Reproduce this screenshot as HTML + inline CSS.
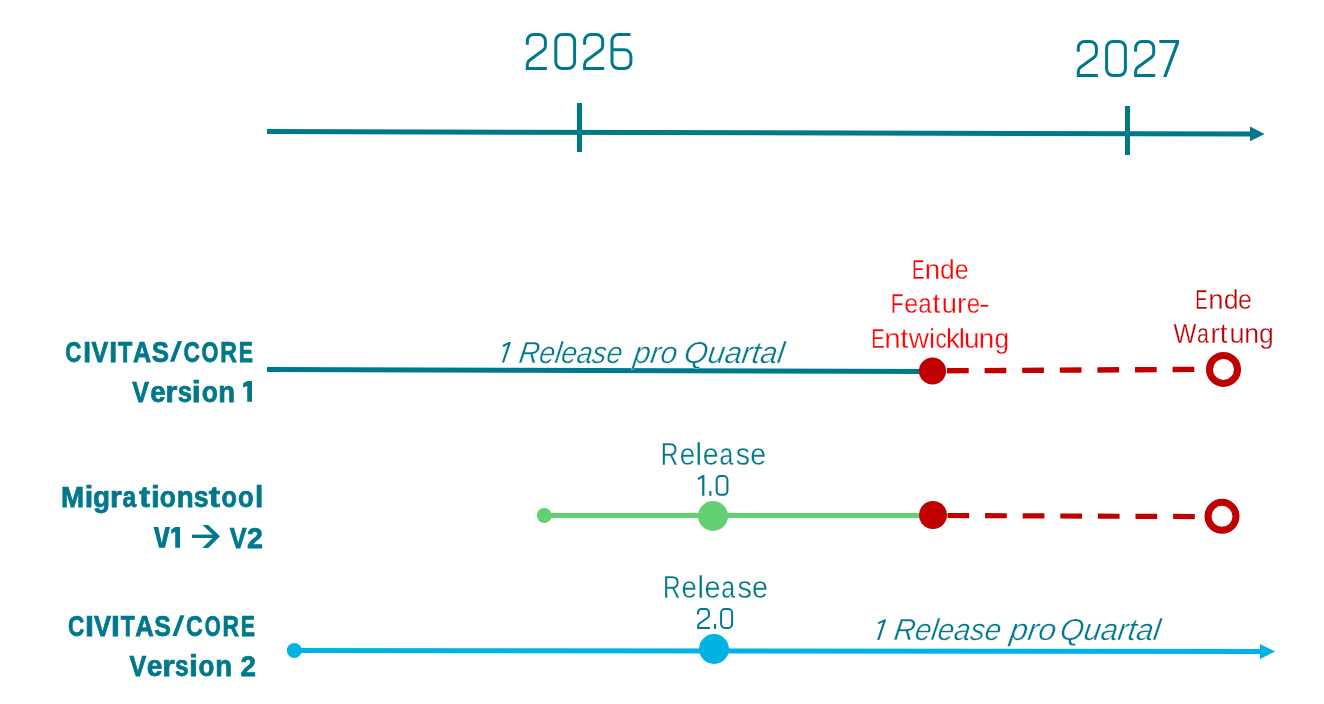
<!DOCTYPE html>
<html><head><meta charset="utf-8">
<style>
html,body{margin:0;padding:0;background:#fff;width:1324px;height:704px;overflow:hidden}
svg{display:block;will-change:transform}
text{font-family:"Liberation Sans",sans-serif}
</style></head>
<body>
<svg width="1324" height="704" viewBox="0 0 1324 704">
<defs>
<path id="d2" d="M1.5 11.7 L1.5 7.9 A6.4 6.4 0 0 1 7.9 1.5 L13.2 1.5 A6.4 6.4 0 0 1 19.6 7.9 L19.6 13 Q19.6 15.7 17.4 17.3 L3.7 27.2 Q1.5 28.8 1.5 31.4 L1.5 35.5 L21.1 35.5"/>
<rect id="d0" x="1.5" y="1.5" width="18.8" height="34" rx="6.4" ry="6.4"/>
<path id="d6" d="M20 1.5 L8 1.5 A6.5 6.5 0 0 0 1.5 8 L1.5 29 A6.5 6.5 0 0 0 8 35.5 L13.9 35.5 A6.5 6.5 0 0 0 20.4 29 L20.4 23.3 A6.5 6.5 0 0 0 13.9 16.8 L1.5 16.8"/>
</defs>
<g fill="none" stroke="#00788c" stroke-width="3" stroke-linecap="butt" stroke-linejoin="miter">
<g transform="translate(525.8,33)">
<use href="#d2" x="0"/><use href="#d0" x="28.5"/><use href="#d2" x="57.3"/><use href="#d6" x="84.7"/>
</g>
<g transform="translate(1076.8,40)">
<use href="#d2" x="0"/><use href="#d0" x="28.3"/><use href="#d2" x="57.3"/>
</g>
</g>
<polygon fill="#00788c" points="1159.3,40 1179.1,40 1179.1,43 1166.5,77 1163.1,77 1175.7,43 1159.3,43"/>
<g fill="#00788c">
<polygon points="267,129.1 1251,131.5 1251,136.5 267,134.1"/>
<rect x="577" y="103" width="5" height="49"/>
<rect x="1125" y="106" width="5" height="49"/>
<polygon points="1250,126.4 1264.6,133.9 1250,141.3"/>
</g>
<polygon points="267,367 932,369 932,374 267,372" fill="#00788c"/>
<line x1="947" y1="370.8" x2="1205" y2="369.3" stroke="#c00000" stroke-width="5.4" stroke-dasharray="21.7 15.9"/>
<circle cx="932.5" cy="371" r="13.6" fill="#c00000"/>
<circle cx="1223.5" cy="369.4" r="14" fill="none" stroke="#c00000" stroke-width="7"/>
<line x1="544" y1="515.5" x2="932" y2="515.5" stroke="#63d071" stroke-width="5"/>
<circle cx="544.3" cy="515.5" r="7.5" fill="#63d071"/>
<circle cx="713" cy="516" r="15" fill="#63d071"/>
<line x1="947.5" y1="515.5" x2="1205" y2="516.6" stroke="#c00000" stroke-width="5.2" stroke-dasharray="21.7 15.9"/>
<circle cx="933" cy="515" r="14" fill="#c00000"/>
<circle cx="1222" cy="516.3" r="14" fill="none" stroke="#c00000" stroke-width="7"/>
<polygon points="294,648 1260,649 1260,654 294,653" fill="#00b3e3"/>
<circle cx="294.3" cy="650.5" r="7.5" fill="#00b3e3"/>
<circle cx="714" cy="649" r="15" fill="#00b3e3"/>
<polygon points="1260,643.9 1275.2,651.5 1260,659.1" fill="#00b3e3"/>
<g fill="none" stroke="#00788c" stroke-width="2" stroke-linecap="butt" stroke-linejoin="miter">
<path d="M698.1 6.6 L698.1 4.5 A3.5 3.5 0 0 1 701.6 1 L705.4 1 A3.5 3.5 0 0 1 708.9 4.5 L708.9 7.3 Q708.9 8.9 707.6 9.8 L699.4 15.5 Q698.1 16.4 698.1 18 L698.1 19.9 L709.9 19.9" transform="translate(0,608)"/>
<rect x="721.1" y="609" width="11" height="18.9" rx="3.8" ry="3.8"/>
<rect x="716.7" y="476.1" width="10.7" height="18.7" rx="3.8" ry="3.8"/>
<path d="M697.9 479.2 L703.4 476.0" stroke-width="2.1"/>
</g>
<g fill="#00788c">
<polygon points="502.6,345.0 509.0,342.0 511.0,342.0 504.1,362.6 501.9,362.6 507.9,344.6 503.4,346.9"/>
<polygon points="877.8,622.4 884.2,619.4 886.2,619.4 879.3,640.0 877.1,640.0 883.1,622.0 878.6,624.3"/>
<rect x="702.2" y="475.1" width="2.2" height="20.7"/>
<rect x="709.3" y="491.1" width="2.1" height="4.7"/>
<rect x="714" y="624" width="2.1" height="4.9"/>
</g>
<g fill="#00788c">
<rect x="192" y="534.6" width="24" height="3.4"/>
<polygon points="177.8,341.1 182,341.1 174.2,361.8 169.9,361.8"/>
<polygon points="180.3,615.3 184.5,615.3 176.7,636 172.4,636"/>
<polygon points="243.2,383.3 247.2,381.1 252,381.1 252,401.8 247.2,401.8 247.2,385.9 243.2,387.6"/>
<polygon points="153.6,527.1 158.3,527.1 161.7,543.1 165.3,527.1 170,527.1 164.9,547.8 159,547.8"/>
<polygon points="171.3,529.6 175.2,527.1 180.05,527.1 180.05,547.8 175.2,547.8 175.2,531.8 171.3,533.8"/>
<polygon points="202.6,524.9 208.2,524.9 220,536.3 208.2,548.1 202.4,548.1 214.3,536.3"/>
</g>
<text x="517.99" y="362.6" font-size="30.4" fill="#00788c" font-style="italic" transform="translate(0,362.6) skewX(-8) translate(0,-362.6)" textLength="103.06" lengthAdjust="spacingAndGlyphs" stroke="#fff" stroke-width="0.35">Release</text>
<text x="632.86" y="362.6" font-size="30.4" fill="#00788c" font-style="italic" transform="translate(0,362.6) skewX(-8) translate(0,-362.6)" textLength="43.23" lengthAdjust="spacingAndGlyphs" stroke="#fff" stroke-width="0.35">pro</text>
<text x="682.98" y="362.6" font-size="30.4" fill="#00788c" font-style="italic" transform="translate(0,362.6) skewX(-8) translate(0,-362.6)" textLength="100.04" lengthAdjust="spacingAndGlyphs" stroke="#fff" stroke-width="0.35">Quartal</text>
<text x="892.98" y="640" font-size="30.4" fill="#00788c" font-style="italic" transform="translate(0,640) skewX(-8) translate(0,-640)" textLength="107.08" lengthAdjust="spacingAndGlyphs" stroke="#fff" stroke-width="0.35">Release</text>
<text x="1008.92" y="640" font-size="30.4" fill="#00788c" font-style="italic" transform="translate(0,640) skewX(-8) translate(0,-640)" textLength="46.15" lengthAdjust="spacingAndGlyphs" stroke="#fff" stroke-width="0.35">pro</text>
<text x="1059.02" y="640" font-size="30.4" fill="#00788c" font-style="italic" transform="translate(0,640) skewX(-8) translate(0,-640)" textLength="100.04" lengthAdjust="spacingAndGlyphs" stroke="#fff" stroke-width="0.35">Quartal</text>
<text x="660.84" y="464.8" font-size="31" fill="#00788c" textLength="17.57" lengthAdjust="spacingAndGlyphs" stroke="#fff" stroke-width="0.3">R</text>
<text x="679.64" y="464.8" font-size="31" fill="#00788c" textLength="15.43" lengthAdjust="spacingAndGlyphs" stroke="#fff" stroke-width="0.3">e</text>
<text x="695.25" y="464.8" font-size="31" fill="#00788c" stroke="#fff" stroke-width="0.3">l</text>
<text x="702.77" y="464.8" font-size="31" fill="#00788c" textLength="15.92" lengthAdjust="spacingAndGlyphs" stroke="#fff" stroke-width="0.3">e</text>
<text x="719.43" y="464.8" font-size="31" fill="#00788c" textLength="13.74" lengthAdjust="spacingAndGlyphs" stroke="#fff" stroke-width="0.3">a</text>
<text x="735.76" y="464.8" font-size="31" fill="#00788c" textLength="14.29" lengthAdjust="spacingAndGlyphs" stroke="#fff" stroke-width="0.3">s</text>
<text x="750.31" y="464.8" font-size="31" fill="#00788c" textLength="15.89" lengthAdjust="spacingAndGlyphs" stroke="#fff" stroke-width="0.3">e</text>
<text x="663.02" y="597.8" font-size="31" fill="#00788c" textLength="17.57" lengthAdjust="spacingAndGlyphs" stroke="#fff" stroke-width="0.3">R</text>
<text x="681.51" y="597.8" font-size="31" fill="#00788c" textLength="15.33" lengthAdjust="spacingAndGlyphs" stroke="#fff" stroke-width="0.3">e</text>
<text x="697.32" y="597.8" font-size="31" fill="#00788c" stroke="#fff" stroke-width="0.3">l</text>
<text x="704.52" y="597.8" font-size="31" fill="#00788c" textLength="15.98" lengthAdjust="spacingAndGlyphs" stroke="#fff" stroke-width="0.3">e</text>
<text x="721.15" y="597.8" font-size="31" fill="#00788c" textLength="13.87" lengthAdjust="spacingAndGlyphs" stroke="#fff" stroke-width="0.3">a</text>
<text x="737.49" y="597.8" font-size="31" fill="#00788c" textLength="14.47" lengthAdjust="spacingAndGlyphs" stroke="#fff" stroke-width="0.3">s</text>
<text x="752.01" y="597.8" font-size="31" fill="#00788c" textLength="16.00" lengthAdjust="spacingAndGlyphs" stroke="#fff" stroke-width="0.3">e</text>
<text x="911.89" y="278.7" font-size="28" fill="#ff0000" textLength="12.57" lengthAdjust="spacingAndGlyphs" stroke="#fff" stroke-width="0.3">E</text>
<text x="924.84" y="278.7" font-size="28" fill="#ff0000" textLength="15.44" lengthAdjust="spacingAndGlyphs" stroke="#fff" stroke-width="0.3">n</text>
<text x="940.00" y="278.7" font-size="28" fill="#ff0000" textLength="14.75" lengthAdjust="spacingAndGlyphs" stroke="#fff" stroke-width="0.3">d</text>
<text x="954.63" y="278.7" font-size="28" fill="#ff0000" textLength="13.92" lengthAdjust="spacingAndGlyphs" stroke="#fff" stroke-width="0.3">e</text>
<text x="890.82" y="312.9" font-size="28" fill="#ff0000" textLength="12.90" lengthAdjust="spacingAndGlyphs" stroke="#fff" stroke-width="0.3">F</text>
<text x="904.25" y="312.9" font-size="28" fill="#ff0000" textLength="13.90" lengthAdjust="spacingAndGlyphs" stroke="#fff" stroke-width="0.3">e</text>
<text x="918.37" y="312.9" font-size="28" fill="#ff0000" textLength="13.42" lengthAdjust="spacingAndGlyphs" stroke="#fff" stroke-width="0.3">a</text>
<text x="932.48" y="312.9" font-size="28" fill="#ff0000" stroke="#fff" stroke-width="0.3">t</text>
<text x="941.82" y="312.9" font-size="28" fill="#ff0000" textLength="15.21" lengthAdjust="spacingAndGlyphs" stroke="#fff" stroke-width="0.3">u</text>
<text x="956.90" y="312.9" font-size="28" fill="#ff0000" stroke="#fff" stroke-width="0.3">r</text>
<text x="966.66" y="312.9" font-size="28" fill="#ff0000" textLength="13.41" lengthAdjust="spacingAndGlyphs" stroke="#fff" stroke-width="0.3">e</text>
<text x="978.70" y="312.9" font-size="28" fill="#ff0000" textLength="11.05" lengthAdjust="spacingAndGlyphs" stroke="#fff" stroke-width="0.3">-</text>
<text x="871.20" y="347.8" font-size="28" fill="#ff0000" textLength="13.51" lengthAdjust="spacingAndGlyphs" stroke="#fff" stroke-width="0.3">E</text>
<text x="884.33" y="347.8" font-size="28" fill="#ff0000" textLength="16.44" lengthAdjust="spacingAndGlyphs" stroke="#fff" stroke-width="0.3">n</text>
<text x="900.41" y="347.8" font-size="28" fill="#ff0000" stroke="#fff" stroke-width="0.3">t</text>
<text x="908.87" y="347.8" font-size="28" fill="#ff0000" textLength="20.25" lengthAdjust="spacingAndGlyphs" stroke="#fff" stroke-width="0.3">w</text>
<text x="928.88" y="347.8" font-size="28" fill="#ff0000" stroke="#fff" stroke-width="0.3">i</text>
<text x="935.45" y="347.8" font-size="28" fill="#ff0000" textLength="11.25" lengthAdjust="spacingAndGlyphs" stroke="#fff" stroke-width="0.3">c</text>
<text x="946.11" y="347.8" font-size="28" fill="#ff0000" textLength="13.85" lengthAdjust="spacingAndGlyphs" stroke="#fff" stroke-width="0.3">k</text>
<text x="958.65" y="347.8" font-size="28" fill="#ff0000" stroke="#fff" stroke-width="0.3">l</text>
<text x="963.98" y="347.8" font-size="28" fill="#ff0000" textLength="15.52" lengthAdjust="spacingAndGlyphs" stroke="#fff" stroke-width="0.3">u</text>
<text x="978.84" y="347.8" font-size="28" fill="#ff0000" textLength="15.44" lengthAdjust="spacingAndGlyphs" stroke="#fff" stroke-width="0.3">n</text>
<text x="994.57" y="347.8" font-size="28" fill="#ff0000" textLength="14.65" lengthAdjust="spacingAndGlyphs" stroke="#fff" stroke-width="0.3">g</text>
<text x="1195.25" y="309.1" font-size="28" fill="#c00000" textLength="12.39" lengthAdjust="spacingAndGlyphs" stroke="#fff" stroke-width="0.3">E</text>
<text x="1208.13" y="309.1" font-size="28" fill="#c00000" textLength="15.36" lengthAdjust="spacingAndGlyphs" stroke="#fff" stroke-width="0.3">n</text>
<text x="1223.73" y="309.1" font-size="28" fill="#c00000" textLength="14.89" lengthAdjust="spacingAndGlyphs" stroke="#fff" stroke-width="0.3">d</text>
<text x="1237.95" y="309.1" font-size="28" fill="#c00000" textLength="13.96" lengthAdjust="spacingAndGlyphs" stroke="#fff" stroke-width="0.3">e</text>
<text x="1173.51" y="342.9" font-size="28" fill="#c00000" textLength="22.93" lengthAdjust="spacingAndGlyphs" stroke="#fff" stroke-width="0.3">W</text>
<text x="1197.10" y="342.9" font-size="28" fill="#c00000" textLength="11.92" lengthAdjust="spacingAndGlyphs" stroke="#fff" stroke-width="0.3">a</text>
<text x="1210.41" y="342.9" font-size="28" fill="#c00000" stroke="#fff" stroke-width="0.3">r</text>
<text x="1219.76" y="342.9" font-size="28" fill="#c00000" stroke="#fff" stroke-width="0.3">t</text>
<text x="1229.43" y="342.9" font-size="28" fill="#c00000" textLength="15.10" lengthAdjust="spacingAndGlyphs" stroke="#fff" stroke-width="0.3">u</text>
<text x="1244.33" y="342.9" font-size="28" fill="#c00000" textLength="14.82" lengthAdjust="spacingAndGlyphs" stroke="#fff" stroke-width="0.3">n</text>
<text x="1259.03" y="342.9" font-size="28" fill="#c00000" textLength="14.75" lengthAdjust="spacingAndGlyphs" stroke="#fff" stroke-width="0.3">g</text>
<text x="65.20" y="361.7" font-size="29.5" fill="#00788c" font-weight="bold" textLength="16.12" lengthAdjust="spacingAndGlyphs" stroke="#00788c" stroke-width="0.75">C</text>
<text x="83.32" y="361.7" font-size="29.5" fill="#00788c" font-weight="bold" textLength="7.74" lengthAdjust="spacingAndGlyphs" stroke="#00788c" stroke-width="0.75">I</text>
<text x="91.60" y="361.7" font-size="29.5" fill="#00788c" font-weight="bold" textLength="16.70" lengthAdjust="spacingAndGlyphs" stroke="#00788c" stroke-width="0.75">V</text>
<text x="109.19" y="361.7" font-size="29.5" fill="#00788c" font-weight="bold" textLength="7.88" lengthAdjust="spacingAndGlyphs" stroke="#00788c" stroke-width="0.75">I</text>
<text x="117.92" y="361.7" font-size="29.5" fill="#00788c" font-weight="bold" textLength="14.32" lengthAdjust="spacingAndGlyphs" stroke="#00788c" stroke-width="0.75">T</text>
<text x="132.99" y="361.7" font-size="29.5" fill="#00788c" font-weight="bold" textLength="18.09" lengthAdjust="spacingAndGlyphs" stroke="#00788c" stroke-width="0.75">A</text>
<text x="151.68" y="361.7" font-size="29.5" fill="#00788c" font-weight="bold" textLength="17.26" lengthAdjust="spacingAndGlyphs" stroke="#00788c" stroke-width="0.75">S</text>
<text x="183.59" y="361.7" font-size="29.5" fill="#00788c" font-weight="bold" textLength="16.45" lengthAdjust="spacingAndGlyphs" stroke="#00788c" stroke-width="0.75">C</text>
<text x="201.59" y="361.7" font-size="29.5" fill="#00788c" font-weight="bold" textLength="16.86" lengthAdjust="spacingAndGlyphs" stroke="#00788c" stroke-width="0.75">O</text>
<text x="220.24" y="361.7" font-size="29.5" fill="#00788c" font-weight="bold" textLength="16.68" lengthAdjust="spacingAndGlyphs" stroke="#00788c" stroke-width="0.75">R</text>
<text x="238.66" y="361.7" font-size="29.5" fill="#00788c" font-weight="bold" textLength="14.21" lengthAdjust="spacingAndGlyphs" stroke="#00788c" stroke-width="0.75">E</text>
<text x="67.93" y="635.9" font-size="29.5" fill="#00788c" font-weight="bold" textLength="16.37" lengthAdjust="spacingAndGlyphs" stroke="#00788c" stroke-width="0.75">C</text>
<text x="84.95" y="635.9" font-size="29.5" fill="#00788c" font-weight="bold" textLength="8.99" lengthAdjust="spacingAndGlyphs" stroke="#00788c" stroke-width="0.75">I</text>
<text x="93.96" y="635.9" font-size="29.5" fill="#00788c" font-weight="bold" textLength="17.14" lengthAdjust="spacingAndGlyphs" stroke="#00788c" stroke-width="0.75">V</text>
<text x="111.00" y="635.9" font-size="29.5" fill="#00788c" font-weight="bold" textLength="8.87" lengthAdjust="spacingAndGlyphs" stroke="#00788c" stroke-width="0.75">I</text>
<text x="120.76" y="635.9" font-size="29.5" fill="#00788c" font-weight="bold" textLength="13.99" lengthAdjust="spacingAndGlyphs" stroke="#00788c" stroke-width="0.75">T</text>
<text x="135.16" y="635.9" font-size="29.5" fill="#00788c" font-weight="bold" textLength="18.50" lengthAdjust="spacingAndGlyphs" stroke="#00788c" stroke-width="0.75">A</text>
<text x="154.34" y="635.9" font-size="29.5" fill="#00788c" font-weight="bold" textLength="16.63" lengthAdjust="spacingAndGlyphs" stroke="#00788c" stroke-width="0.75">S</text>
<text x="186.09" y="635.9" font-size="29.5" fill="#00788c" font-weight="bold" textLength="16.73" lengthAdjust="spacingAndGlyphs" stroke="#00788c" stroke-width="0.75">C</text>
<text x="204.63" y="635.9" font-size="29.5" fill="#00788c" font-weight="bold" textLength="15.92" lengthAdjust="spacingAndGlyphs" stroke="#00788c" stroke-width="0.75">O</text>
<text x="222.42" y="635.9" font-size="29.5" fill="#00788c" font-weight="bold" textLength="16.55" lengthAdjust="spacingAndGlyphs" stroke="#00788c" stroke-width="0.75">R</text>
<text x="240.83" y="635.9" font-size="29.5" fill="#00788c" font-weight="bold" textLength="14.22" lengthAdjust="spacingAndGlyphs" stroke="#00788c" stroke-width="0.75">E</text>
<text x="132.36" y="401.8" font-size="29.5" fill="#00788c" font-weight="bold" textLength="16.73" lengthAdjust="spacingAndGlyphs" stroke="#00788c" stroke-width="0.75">V</text>
<text x="150.26" y="401.8" font-size="29.5" fill="#00788c" font-weight="bold" textLength="15.33" lengthAdjust="spacingAndGlyphs" stroke="#00788c" stroke-width="0.75">e</text>
<text x="165.45" y="401.8" font-size="29.5" fill="#00788c" font-weight="bold" textLength="11.86" lengthAdjust="spacingAndGlyphs" stroke="#00788c" stroke-width="0.75">r</text>
<text x="177.63" y="401.8" font-size="29.5" fill="#00788c" font-weight="bold" textLength="14.28" lengthAdjust="spacingAndGlyphs" stroke="#00788c" stroke-width="0.75">s</text>
<text x="191.72" y="401.8" font-size="29.5" fill="#00788c" font-weight="bold" textLength="8.99" lengthAdjust="spacingAndGlyphs" stroke="#00788c" stroke-width="0.75">i</text>
<text x="201.80" y="401.8" font-size="29.5" fill="#00788c" font-weight="bold" textLength="16.16" lengthAdjust="spacingAndGlyphs" stroke="#00788c" stroke-width="0.75">o</text>
<text x="218.29" y="401.8" font-size="29.5" fill="#00788c" font-weight="bold" textLength="16.84" lengthAdjust="spacingAndGlyphs" stroke="#00788c" stroke-width="0.75">n</text>
<text x="129.38" y="675.7" font-size="29.5" fill="#00788c" font-weight="bold" textLength="16.75" lengthAdjust="spacingAndGlyphs" stroke="#00788c" stroke-width="0.75">V</text>
<text x="146.72" y="675.7" font-size="29.5" fill="#00788c" font-weight="bold" textLength="15.67" lengthAdjust="spacingAndGlyphs" stroke="#00788c" stroke-width="0.75">e</text>
<text x="162.25" y="675.7" font-size="29.5" fill="#00788c" font-weight="bold" textLength="12.47" lengthAdjust="spacingAndGlyphs" stroke="#00788c" stroke-width="0.75">r</text>
<text x="175.10" y="675.7" font-size="29.5" fill="#00788c" font-weight="bold" textLength="13.61" lengthAdjust="spacingAndGlyphs" stroke="#00788c" stroke-width="0.75">s</text>
<text x="189.08" y="675.7" font-size="29.5" fill="#00788c" font-weight="bold" textLength="8.90" lengthAdjust="spacingAndGlyphs" stroke="#00788c" stroke-width="0.75">i</text>
<text x="198.50" y="675.7" font-size="29.5" fill="#00788c" font-weight="bold" textLength="15.89" lengthAdjust="spacingAndGlyphs" stroke="#00788c" stroke-width="0.75">o</text>
<text x="215.29" y="675.7" font-size="29.5" fill="#00788c" font-weight="bold" textLength="16.84" lengthAdjust="spacingAndGlyphs" stroke="#00788c" stroke-width="0.75">n</text>
<text x="240.53" y="675.7" font-size="29.5" fill="#00788c" font-weight="bold" textLength="15.46" lengthAdjust="spacingAndGlyphs" stroke="#00788c" stroke-width="0.75">2</text>
<text x="61.01" y="506.8" font-size="29.7" fill="#00788c" font-weight="bold" textLength="23.08" lengthAdjust="spacingAndGlyphs" stroke="#00788c" stroke-width="0.75">M</text>
<text x="84.82" y="506.8" font-size="29.7" fill="#00788c" font-weight="bold" textLength="8.48" lengthAdjust="spacingAndGlyphs" stroke="#00788c" stroke-width="0.75">i</text>
<text x="93.06" y="506.8" font-size="29.7" fill="#00788c" font-weight="bold" textLength="17.02" lengthAdjust="spacingAndGlyphs" stroke="#00788c" stroke-width="0.75">g</text>
<text x="110.05" y="506.8" font-size="29.7" fill="#00788c" font-weight="bold" textLength="11.79" lengthAdjust="spacingAndGlyphs" stroke="#00788c" stroke-width="0.75">r</text>
<text x="122.53" y="506.8" font-size="29.7" fill="#00788c" font-weight="bold" textLength="13.64" lengthAdjust="spacingAndGlyphs" stroke="#00788c" stroke-width="0.75">a</text>
<text x="139.27" y="506.8" font-size="29.7" fill="#00788c" font-weight="bold" textLength="10.83" lengthAdjust="spacingAndGlyphs" stroke="#00788c" stroke-width="0.75">t</text>
<text x="150.98" y="506.8" font-size="29.7" fill="#00788c" font-weight="bold" textLength="8.79" lengthAdjust="spacingAndGlyphs" stroke="#00788c" stroke-width="0.75">i</text>
<text x="159.84" y="506.8" font-size="29.7" fill="#00788c" font-weight="bold" textLength="16.13" lengthAdjust="spacingAndGlyphs" stroke="#00788c" stroke-width="0.75">o</text>
<text x="176.70" y="506.8" font-size="29.7" fill="#00788c" font-weight="bold" textLength="16.94" lengthAdjust="spacingAndGlyphs" stroke="#00788c" stroke-width="0.75">n</text>
<text x="193.69" y="506.8" font-size="29.7" fill="#00788c" font-weight="bold" textLength="14.85" lengthAdjust="spacingAndGlyphs" stroke="#00788c" stroke-width="0.75">s</text>
<text x="208.81" y="506.8" font-size="29.7" fill="#00788c" font-weight="bold" textLength="11.32" lengthAdjust="spacingAndGlyphs" stroke="#00788c" stroke-width="0.75">t</text>
<text x="221.52" y="506.8" font-size="29.7" fill="#00788c" font-weight="bold" textLength="15.39" lengthAdjust="spacingAndGlyphs" stroke="#00788c" stroke-width="0.75">o</text>
<text x="237.91" y="506.8" font-size="29.7" fill="#00788c" font-weight="bold" textLength="15.67" lengthAdjust="spacingAndGlyphs" stroke="#00788c" stroke-width="0.75">o</text>
<text x="254.93" y="506.8" font-size="29.7" fill="#00788c" font-weight="bold" textLength="8.28" lengthAdjust="spacingAndGlyphs" stroke="#00788c" stroke-width="0.75">l</text>
<text x="229.83" y="547.9" font-size="29.7" fill="#00788c" font-weight="bold" textLength="16.83" lengthAdjust="spacingAndGlyphs" stroke="#00788c" stroke-width="0.75">V</text>
<text x="246.92" y="547.9" font-size="29.7" fill="#00788c" font-weight="bold" textLength="15.88" lengthAdjust="spacingAndGlyphs" stroke="#00788c" stroke-width="0.75">2</text>
</svg>
</body></html>
